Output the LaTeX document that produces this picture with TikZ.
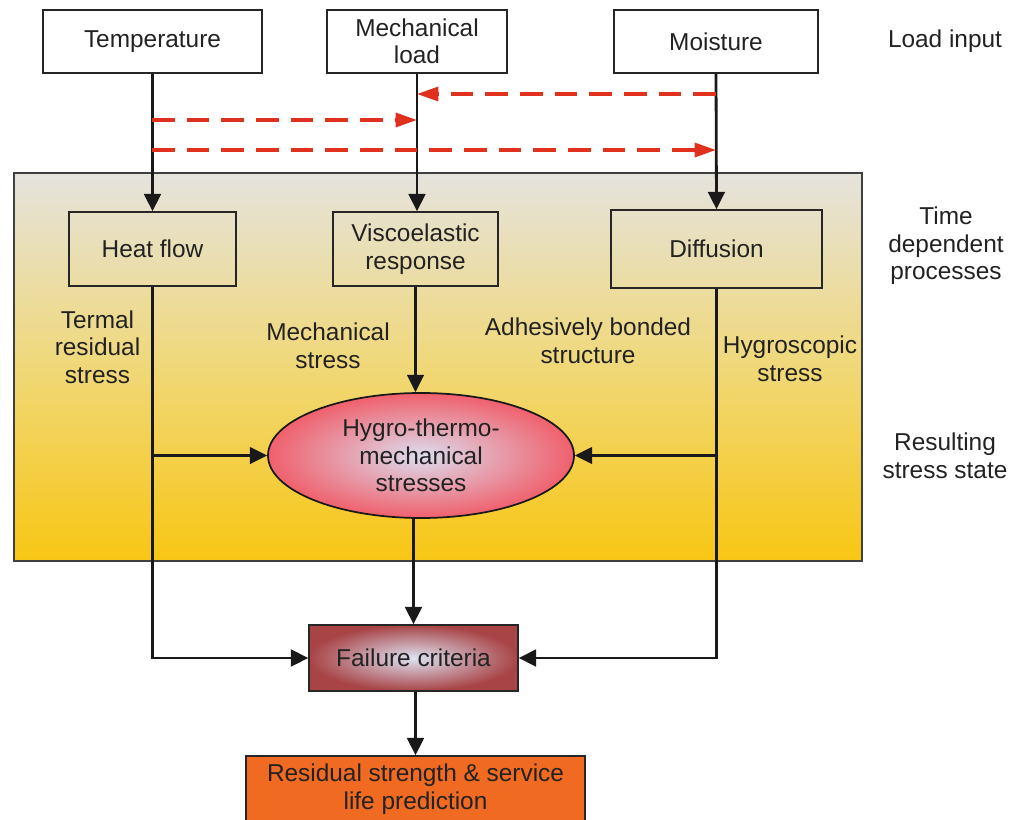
\documentclass[tikz,border=0pt]{standalone}
\usepackage{fontspec}
\setmainfont{Liberation Sans}
\usetikzlibrary{arrows.meta,shapes.geometric}
\definecolor{txt}{HTML}{222222}
\definecolor{dred}{HTML}{E0301E}
\definecolor{panTop}{HTML}{E5E3DD}
\definecolor{panMid}{HTML}{F0D878}
\definecolor{panBot}{HTML}{F8C614}
\definecolor{ellOut}{HTML}{F0606C}
\definecolor{ellIn}{HTML}{DCDDEE}
\definecolor{failOut}{HTML}{A84446}
\definecolor{failIn}{HTML}{DEE2F2}
\definecolor{orng}{HTML}{F06A22}
\begin{document}
\begin{tikzpicture}[x=0.75pt,y=-0.75pt,
  every node/.style={font=\fontsize{18.3}{20.6}\selectfont, text=txt, align=center},
  box/.style={draw=black!85, line width=1.1pt, inner sep=0pt},
  lbl/.style={inner sep=0pt},
  arr/.style={line width=2.1pt, draw=black!90, -{Triangle[length=13pt,width=12.5pt]}},
  rarr/.style={line width=2.4pt, draw=dred, dash pattern=on 17pt off 9pt, -{Triangle[length=16pt,width=10.5pt]}}
]
\useasboundingbox (0,0) rectangle (1009,820);

% panel
\path[top color=panTop, bottom color=panBot, middle color=panMid] (14,173) rectangle (862,561);
\draw[draw=black!75, line width=1pt] (14,173) rectangle (862,561);

% top boxes
\node[box, minimum width=164.25pt, minimum height=47.25pt] (temp) at (152.5,41.5) {Temperature};
\node[box, minimum width=135pt, minimum height=47.25pt] (mech) at (417,41.5) {Mechanical\\load};
\node[box, minimum width=153pt, minimum height=47.25pt] (moist) at (716,41.5) {Moisture};
\node[lbl] (loadin) at (945,41) {Load input};

% process boxes
\node[box, minimum width=125.25pt, minimum height=55.5pt] (heat) at (152.5,249) {Heat flow};
\node[box, minimum width=123.75pt, minimum height=55.5pt] (visco) at (415.5,249) {Viscoelastic\\response};
\node[box, minimum width=158.25pt, minimum height=58.5pt] (diff) at (716.5,249) {Diffusion};
\node[lbl] (tdp) at (946,246) {Time\\dependent\\processes};

% labels
\node[lbl] (trs) at (97.5,347) {Termal\\residual\\stress};
\node[lbl] (ms) at (328,346) {Mechanical\\stress};
\node[lbl] (abs) at (588,341) {Adhesively bonded\\structure};
\node[lbl] (hs) at (790,359) {Hygroscopic\\stress};
\node[lbl] (rss) at (945,456) {Resulting\\stress state};

% ellipse
\node[ellipse, draw=black!90, line width=1.3pt, minimum width=229.5pt, minimum height=93.75pt,
      inner sep=0pt, shading=radial, inner color=ellIn, outer color=ellOut] (ell) at (421,455.5)
      {Hygro-thermo-\\mechanical\\stresses};

% failure
\node[box, minimum width=156.75pt, minimum height=49.5pt, shading=radial, inner color=failIn, outer color=failOut] (fail) at (413.5,658) {Failure criteria};

% residual
\node[box, minimum width=254.25pt, minimum height=49.5pt, fill=orng] (res) at (415.5,789) {Residual strength \& service\\life prediction};

% black connectors
\draw[arr] (temp.south) -- (heat.north);
\draw[arr] (mech.south) -- (mech.south |- visco.north);
\draw[arr] (moist.south) -- (diff.north);
\draw[arr] (visco.south) -- (visco.south |- ell.north);
\draw[arr] (heat.south) |- (fail.west);
\draw[arr] (diff.south) |- (fail.east);
\coordinate (hb) at (heat.south |- ell.west);
\coordinate (db) at (diff.south |- ell.east);
\draw[arr] (hb) -- (ell.west);
\draw[arr] (db) -- (ell.east);
\draw[arr] (ell.south -| fail.north) -- (fail.north);
\draw[arr] (res.north |- fail.south) -- (res.north);

% red dashed
\coordinate (r1s) at (716,94);
\coordinate (r1e) at (417,94);
\coordinate (r2s) at (152,120);
\coordinate (r2e) at (417,120);
\coordinate (r3s) at (152,150);
\coordinate (r3e) at (716,150);
\draw[rarr] (r1s) -- (r1e);
\draw[rarr] (r2s) -- (r2e);
\draw[rarr] (r3s) -- (r3e);
\end{tikzpicture}
\end{document}
